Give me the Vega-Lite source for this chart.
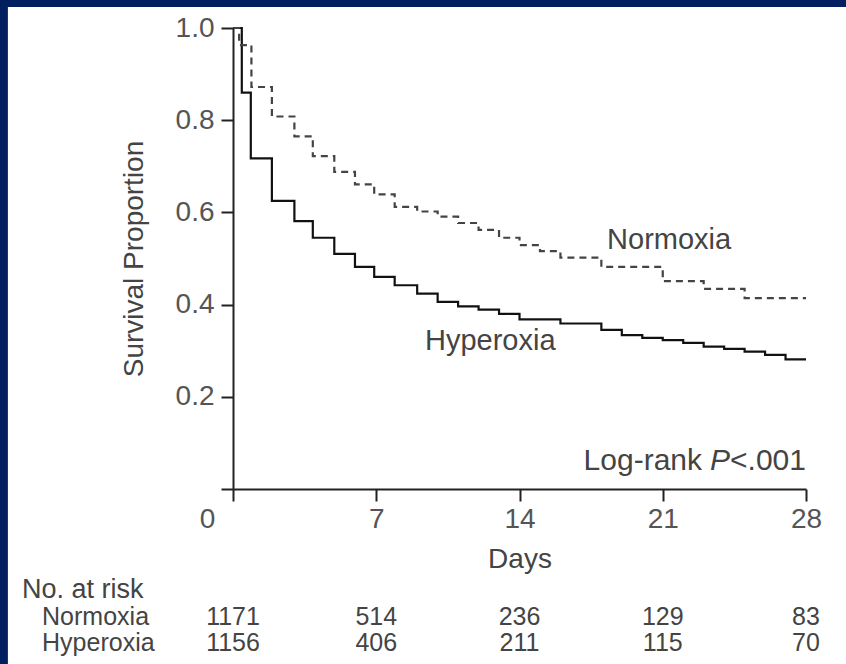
{
  "$schema": "https://vega.github.io/schema/vega-lite/v6.json",
  "width": 573,
  "height": 461,
  "autosize": {"type": "none"},
  "padding": {"left": 233, "top": 28, "right": 40, "bottom": 175},
  "background": "#022060",
  "config": {"view": {"stroke": null}, "font": "Liberation Sans"},
  "datasets": {
    "km": [
      {"group": "Hyperoxia", "day": 0, "surv": 1.0},
      {"group": "Hyperoxia", "day": 0.43, "surv": 0.860},
      {"group": "Hyperoxia", "day": 0.87, "surv": 0.717},
      {"group": "Hyperoxia", "day": 1.9, "surv": 0.625},
      {"group": "Hyperoxia", "day": 3.0, "surv": 0.581},
      {"group": "Hyperoxia", "day": 3.9, "surv": 0.545},
      {"group": "Hyperoxia", "day": 4.95, "surv": 0.510},
      {"group": "Hyperoxia", "day": 5.96, "surv": 0.482},
      {"group": "Hyperoxia", "day": 6.9, "surv": 0.460},
      {"group": "Hyperoxia", "day": 7.9, "surv": 0.442},
      {"group": "Hyperoxia", "day": 9.0, "surv": 0.424},
      {"group": "Hyperoxia", "day": 10.0, "surv": 0.406},
      {"group": "Hyperoxia", "day": 11.0, "surv": 0.396},
      {"group": "Hyperoxia", "day": 12.0, "surv": 0.389},
      {"group": "Hyperoxia", "day": 13.0, "surv": 0.380},
      {"group": "Hyperoxia", "day": 14.0, "surv": 0.368},
      {"group": "Hyperoxia", "day": 16.0, "surv": 0.359},
      {"group": "Hyperoxia", "day": 18.0, "surv": 0.345},
      {"group": "Hyperoxia", "day": 19.0, "surv": 0.334},
      {"group": "Hyperoxia", "day": 20.0, "surv": 0.328},
      {"group": "Hyperoxia", "day": 21.0, "surv": 0.323},
      {"group": "Hyperoxia", "day": 22.0, "surv": 0.317},
      {"group": "Hyperoxia", "day": 23.0, "surv": 0.309},
      {"group": "Hyperoxia", "day": 24.0, "surv": 0.304},
      {"group": "Hyperoxia", "day": 25.0, "surv": 0.298},
      {"group": "Hyperoxia", "day": 26.0, "surv": 0.291},
      {"group": "Hyperoxia", "day": 27.0, "surv": 0.281},
      {"group": "Hyperoxia", "day": 28.0, "surv": 0.281},
      {"group": "Normoxia", "day": 0, "surv": 1.0},
      {"group": "Normoxia", "day": 0.3, "surv": 0.963},
      {"group": "Normoxia", "day": 0.9, "surv": 0.872},
      {"group": "Normoxia", "day": 1.9, "surv": 0.808},
      {"group": "Normoxia", "day": 3.0, "surv": 0.765},
      {"group": "Normoxia", "day": 3.9, "surv": 0.722},
      {"group": "Normoxia", "day": 4.95, "surv": 0.688},
      {"group": "Normoxia", "day": 5.96, "surv": 0.661},
      {"group": "Normoxia", "day": 6.9, "surv": 0.639},
      {"group": "Normoxia", "day": 7.9, "surv": 0.612},
      {"group": "Normoxia", "day": 9.0, "surv": 0.602},
      {"group": "Normoxia", "day": 10.0, "surv": 0.591},
      {"group": "Normoxia", "day": 11.0, "surv": 0.577},
      {"group": "Normoxia", "day": 12.0, "surv": 0.562},
      {"group": "Normoxia", "day": 13.0, "surv": 0.545},
      {"group": "Normoxia", "day": 14.0, "surv": 0.529},
      {"group": "Normoxia", "day": 15.0, "surv": 0.516},
      {"group": "Normoxia", "day": 16.0, "surv": 0.502},
      {"group": "Normoxia", "day": 18.0, "surv": 0.482},
      {"group": "Normoxia", "day": 21.0, "surv": 0.451},
      {"group": "Normoxia", "day": 23.0, "surv": 0.434},
      {"group": "Normoxia", "day": 25.0, "surv": 0.414},
      {"group": "Normoxia", "day": 28.0, "surv": 0.414}
    ],
    "risk": [
      {"group": "Normoxia", "day": 0, "n": 1171},
      {"group": "Normoxia", "day": 7, "n": 514},
      {"group": "Normoxia", "day": 14, "n": 236},
      {"group": "Normoxia", "day": 21, "n": 129},
      {"group": "Normoxia", "day": 28, "n": 83},
      {"group": "Hyperoxia", "day": 0, "n": 1156},
      {"group": "Hyperoxia", "day": 7, "n": 406},
      {"group": "Hyperoxia", "day": 14, "n": 211},
      {"group": "Hyperoxia", "day": 21, "n": 115},
      {"group": "Hyperoxia", "day": 28, "n": 70}
    ],
    "labels": [
      {"label": "Normoxia", "day": 18.28, "surv": 0.540},
      {"label": "Hyperoxia", "day": 9.38, "surv": 0.320}
    ]
  },
  "layer": [
    {
      "data": {"values": [{"panel": "background"}]},
      "mark": {"type": "rect", "fill": "white"},
      "encoding": {
        "x": {"datum": -11, "type": "quantitative"},
        "x2": {"datum": 31},
        "y": {"datum": -0.45, "type": "quantitative"},
        "y2": {"datum": 1.0456}
      }
    },
    {
      "data": {"name": "km"},
      "mark": {"type": "line", "interpolate": "step-after", "strokeWidth": 2.2},
      "encoding": {
        "x": {
          "field": "day", "type": "quantitative",
          "scale": {"domain": [0, 28], "nice": false, "zero": false},
          "axis": {
            "zindex": 2,
            "title": "Days", "values": [0, 7, 14, 21, 28], "grid": false,
            "domainColor": "#222", "domainWidth": 2, "tickColor": "#222", "tickWidth": 2, "tickSize": 12,
            "labelFontSize": 28, "labelColor": "#555", "labelPadding": 4, "labelFlush": false,
            "labelOffset": {"condition": {"test": "datum.value == 0", "value": -26}, "value": 0},
            "titleFontSize": 28, "titleFontWeight": "normal", "titleColor": "#444", "titlePadding": 12
          }
        },
        "y": {
          "field": "surv", "type": "quantitative",
          "scale": {"domain": [0, 1], "nice": false},
          "axis": {
            "zindex": 2,
            "title": "Survival Proportion", "values": [0, 0.2, 0.4, 0.6, 0.8, 1.0], "grid": false,
            "labelExpr": "datum.value == 0 ? '' : format(datum.value, '.1f')",
            "domainColor": "#222", "domainWidth": 2, "tickColor": "#222", "tickWidth": 2, "tickSize": 12,
            "labelFontSize": 28, "labelColor": "#555", "labelPadding": 7, "labelFlush": false,
            "titleFontSize": 28, "titleFontWeight": "normal", "titleColor": "#444", "titlePadding": 27
          }
        },
        "color": {"field": "group", "type": "nominal", "scale": {"domain": ["Normoxia", "Hyperoxia"], "range": ["#444444", "#111111"]}, "legend": null},
        "strokeDash": {"field": "group", "type": "nominal", "scale": {"domain": ["Normoxia", "Hyperoxia"], "range": [[7, 5], [1, 0]]}, "legend": null}
      }
    },
    {
      "data": {"name": "labels"},
      "mark": {"type": "text", "align": "left", "baseline": "middle", "fontSize": 29, "color": "#444"},
      "encoding": {
        "x": {"field": "day", "type": "quantitative"},
        "y": {"field": "surv", "type": "quantitative"},
        "text": {"field": "label"}
      }
    },
    {
      "data": {"values": [{"part": "<.001"}]},
      "mark": {"type": "text", "align": "right", "baseline": "middle", "fontSize": 30, "color": "#444"},
      "encoding": {"x": {"datum": 28, "type": "quantitative"}, "y": {"datum": 0.061, "type": "quantitative"}, "text": {"field": "part"}}
    },
    {
      "data": {"values": [{"part": "P"}]},
      "mark": {"type": "text", "align": "right", "baseline": "middle", "fontSize": 30, "fontStyle": "italic", "color": "#444", "dx": -76},
      "encoding": {"x": {"datum": 28, "type": "quantitative"}, "y": {"datum": 0.061, "type": "quantitative"}, "text": {"field": "part"}}
    },
    {
      "data": {"values": [{"part": "Log-rank"}]},
      "mark": {"type": "text", "align": "right", "baseline": "middle", "fontSize": 30, "color": "#444", "dx": -104},
      "encoding": {"x": {"datum": 28, "type": "quantitative"}, "y": {"datum": 0.061, "type": "quantitative"}, "text": {"field": "part"}}
    },
    {
      "data": {"values": [{"heading": "No. at risk"}]},
      "mark": {"type": "text", "align": "left", "baseline": "middle", "fontSize": 27, "color": "#444"},
      "encoding": {"x": {"datum": -10.31, "type": "quantitative"}, "y": {"datum": -0.219, "type": "quantitative"}, "text": {"field": "heading"}}
    },
    {
      "data": {"name": "risk"},
      "transform": [{"filter": "datum.group == 'Normoxia' && datum.day == 0"}],
      "mark": {"type": "text", "align": "left", "baseline": "middle", "fontSize": 25, "color": "#444"},
      "encoding": {"x": {"datum": -9.33, "type": "quantitative"}, "y": {"datum": -0.278, "type": "quantitative"}, "text": {"field": "group"}}
    },
    {
      "data": {"name": "risk"},
      "transform": [{"filter": "datum.group == 'Hyperoxia' && datum.day == 0"}],
      "mark": {"type": "text", "align": "left", "baseline": "middle", "fontSize": 25, "color": "#444"},
      "encoding": {"x": {"datum": -9.33, "type": "quantitative"}, "y": {"datum": -0.334, "type": "quantitative"}, "text": {"field": "group"}}
    },
    {
      "data": {"name": "risk"},
      "transform": [{"filter": "datum.group == 'Normoxia'"}],
      "mark": {"type": "text", "align": "center", "baseline": "middle", "fontSize": 25, "color": "#444"},
      "encoding": {"x": {"field": "day", "type": "quantitative"}, "y": {"datum": -0.278, "type": "quantitative"}, "text": {"field": "n"}}
    },
    {
      "data": {"name": "risk"},
      "transform": [{"filter": "datum.group == 'Hyperoxia'"}],
      "mark": {"type": "text", "align": "center", "baseline": "middle", "fontSize": 25, "color": "#444"},
      "encoding": {"x": {"field": "day", "type": "quantitative"}, "y": {"datum": -0.334, "type": "quantitative"}, "text": {"field": "n"}}
    }
  ]
}
